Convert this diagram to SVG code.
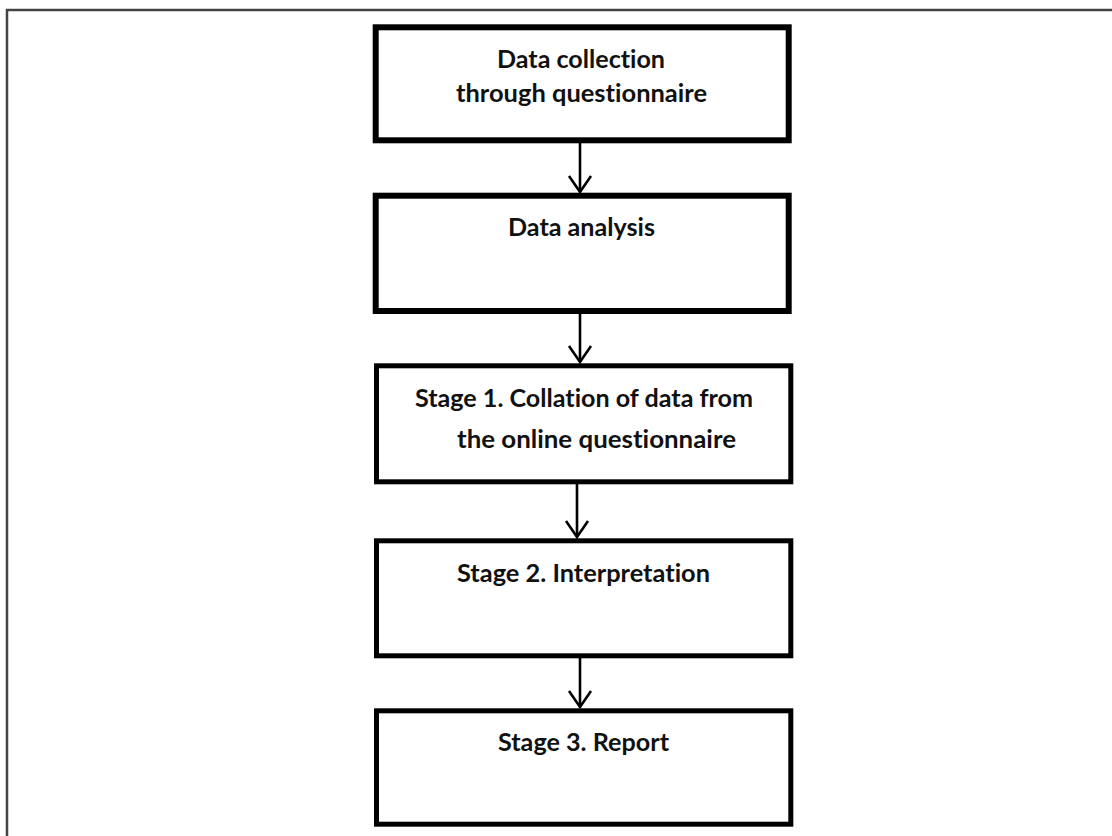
<svg xmlns="http://www.w3.org/2000/svg" width="1112" height="836" viewBox="0 0 1112 836">
<style>
.frame{fill:none;stroke:#444;stroke-width:2.5}
.box{fill:#fff;stroke:#000;stroke-width:6}
.box2{fill:#fff;stroke:#000;stroke-width:5}
.lbl{font-family:Lato,"Open Sans",sans-serif;font-weight:bold;font-size:24px;fill:#111;font-variant-ligatures:none;font-feature-settings:"liga" 0}
.conn{stroke:#000;stroke-width:2.6;fill:none}
</style>
<rect width="1112" height="836" fill="#fff"/>
<path class="frame" d="M7,836 L7,10 L1112,10"/>
<g id="connectors">
<line class="conn" x1="580" y1="143" x2="580" y2="191"/>
<path class="conn" d="M569,176 L580,192 L591,176"/>
<line class="conn" x1="580" y1="314" x2="580" y2="362"/>
<path class="conn" d="M569,346 L580,362 L591,346"/>
<line class="conn" x1="577" y1="484" x2="577" y2="537"/>
<path class="conn" d="M566,521 L577,537 L588,521"/>
<line class="conn" x1="580" y1="651" x2="580" y2="707"/>
<path class="conn" d="M569,691 L580,707 L591,691"/>
</g>
<g id="node1">
<rect class="box" x="375.7" y="27.3" width="413" height="113"/>
<text class="lbl" x="497" y="68" textLength="168" lengthAdjust="spacingAndGlyphs">Data collection</text>
<text class="lbl" x="456" y="102" textLength="251" lengthAdjust="spacingAndGlyphs">through questionnaire</text>
</g>
<g id="node2">
<rect class="box" x="375.7" y="195.7" width="413" height="115.3"/>
<text class="lbl" x="508" y="236" textLength="147" lengthAdjust="spacingAndGlyphs">Data analysis</text>
</g>
<g id="node3">
<rect class="box2" x="376.5" y="365.8" width="414.3" height="116"/>
<text class="lbl" x="415" y="407" textLength="338" lengthAdjust="spacingAndGlyphs">Stage 1. Collation of data from</text>
<text class="lbl" x="457" y="448" textLength="279" lengthAdjust="spacingAndGlyphs">the online questionnaire</text>
</g>
<g id="node4">
<rect class="box2" x="376.5" y="540.8" width="414.3" height="115"/>
<text class="lbl" x="457" y="582" textLength="253" lengthAdjust="spacingAndGlyphs">Stage 2. Interpretation</text>
</g>
<g id="node5">
<rect class="box2" x="376.5" y="710.8" width="414.3" height="113.4"/>
<text class="lbl" x="498" y="751" textLength="171" lengthAdjust="spacingAndGlyphs">Stage 3. Report</text>
</g>
</svg>
